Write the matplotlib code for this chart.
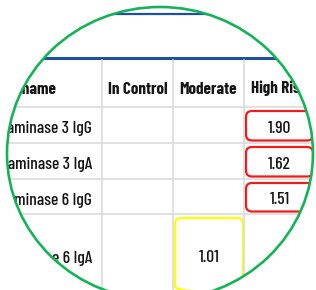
import matplotlib
matplotlib.use("Agg")
import numpy as np
import matplotlib.pyplot as plt
from matplotlib.patches import Ellipse, FancyBboxPatch, PathPatch
from matplotlib.path import Path

# ---- data ----
columns = ["Test name", "In Control", "Moderate", "High Risk"]
row_labels = ["Transglutaminase 3 IgG", "Transglutaminase 3 IgA",
              "Transglutaminase 6 IgG", "Transglutaminase 6 IgA"]
values = [1.90, 1.62, 1.51, 1.01]
value_column = ["High Risk", "High Risk", "High Risk", "Moderate"]

# ---- layout (pixel space) ----
W, H = 316, 290
col_edges = [-60, 102, 173, 244, 315]
row_edges = [58, 107, 143, 179, 214, 295]
box_colors = {"High Risk": "#ee1c1c", "Moderate": "#ffff00", "In Control": "#22aa22"}
ecx, ecy, erx, ery = 160, 153.5, 153, 146.5

fig = plt.figure(figsize=(W / 100, H / 100), dpi=100)
ax = fig.add_axes([0, 0, 1, 1])
ax.set_xlim(0, W)
ax.set_ylim(H, 0)
ax.axis("off")

clip = Ellipse((ecx, ecy), 2 * erx, 2 * ery, transform=ax.transData,
               facecolor="white", edgecolor="none", zorder=0)
ax.add_patch(clip)

fam = ["Barlow Condensed", "Roboto Condensed", "DejaVu Sans"]
txt_c = "#151515"
arts = []
# blue rules
arts += ax.plot([0, W], [13.5, 13.5], color="#1f4f9f", lw=1.6, solid_capstyle="butt")
arts += ax.plot([0, W], [58.3, 58.3], color="#1f4f9f", lw=2.2, solid_capstyle="butt")
# grid
grid_c = "#d8d8d8"
for x in col_edges[1:4]:
    arts += ax.plot([x, x], [60, H + 20], color=grid_c, lw=1.1)
for y in row_edges[1:5]:
    arts += ax.plot([0, W], [y, y], color=grid_c, lw=1.1)
for a in arts:
    a.set_clip_path(clip)

# header
hb = 93.5
ax.text(56, hb, columns[0], ha="right", va="baseline", fontsize=12.3,
        fontweight="bold", family=fam, color=txt_c)
for j in range(1, 4):
    cx = (col_edges[j] + col_edges[j + 1]) / 2
    ax.text(cx, hb, columns[j], ha="center", va="baseline", fontsize=12.3,
            fontweight="bold", family=fam, color=txt_c)

# body
for i, (lab, v, vc) in enumerate(zip(row_labels, values, value_column)):
    top, bot = row_edges[i + 1], row_edges[i + 2]
    base = (top + bot) / 2 + 8
    ax.text(92, base, lab, ha="right", va="baseline", fontsize=12.6,
            fontweight="medium", family=fam, color=txt_c)
    j = columns.index(vc)
    x0, x1 = col_edges[j] + 2, col_edges[j + 1] - 2
    y0, y1 = top + 4, bot - 2.5
    if i == 3:
        x1 = col_edges[j + 1] - 1
    box = FancyBboxPatch((x0, y0), x1 - x0, y1 - y0,
                         boxstyle="round,pad=0,rounding_size=6",
                         facecolor="none", edgecolor=box_colors[vc], lw=1.6)
    box.set_clip_path(clip)
    ax.add_patch(box)
    ax.text((x0 + x1) / 2, base, f"{v:.2f}", ha="center", va="baseline",
            fontsize=12.6, fontweight="medium", family=fam, color=txt_c)

# white mask outside the circular lens (covers text overflowing the lens)
rect = [(-20, -20), (W + 20, -20), (W + 20, H + 20), (-20, H + 20), (-20, -20)]
th = np.linspace(0, -2 * np.pi, 361)
ell = list(zip(ecx + erx * np.cos(th), ecy + ery * np.sin(th)))
verts = rect + ell
codes = ([Path.MOVETO] + [Path.LINETO] * 3 + [Path.CLOSEPOLY] +
         [Path.MOVETO] + [Path.LINETO] * (len(ell) - 2) + [Path.CLOSEPOLY])
ax.add_patch(PathPatch(Path(verts, codes), facecolor="white", edgecolor="none", zorder=9))

ax.add_patch(Ellipse((ecx, ecy), 2 * erx, 2 * ery, facecolor="none",
                     edgecolor="#17b158", lw=1.9, zorder=10))

fig.savefig("out.png", dpi=100, facecolor="white")
